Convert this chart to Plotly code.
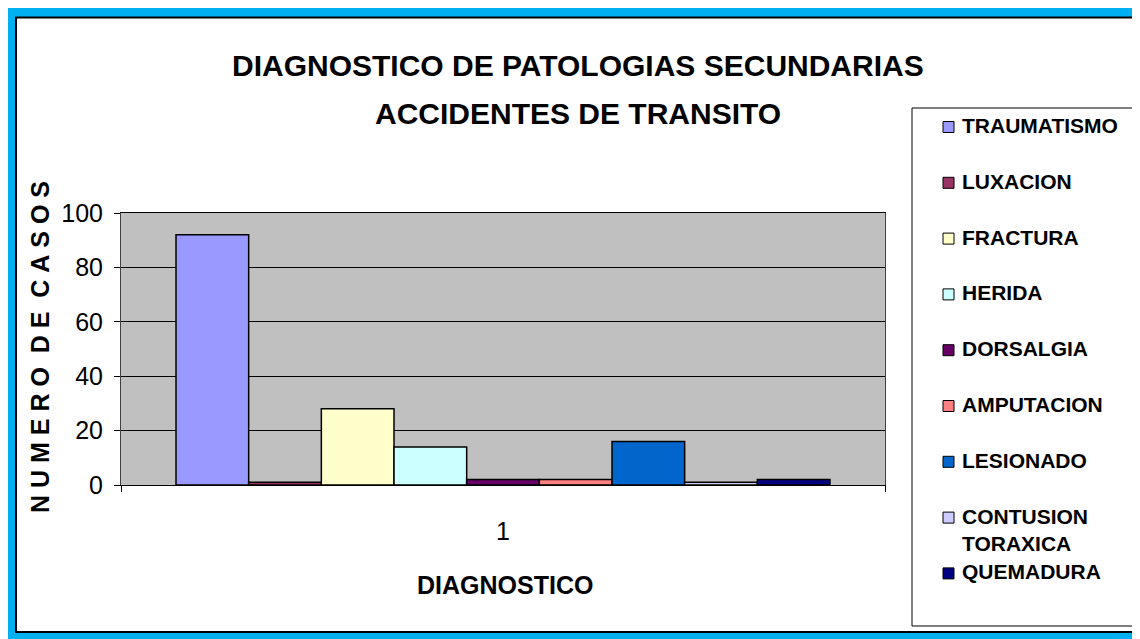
import plotly.graph_objects as go

# ---------------- data ----------------
categories = ["TRAUMATISMO", "LUXACION", "FRACTURA", "HERIDA", "DORSALGIA",
              "AMPUTACION", "LESIONADO", "CONTUSION TORAXICA", "QUEMADURA"]
values = [92, 1, 28, 14, 2, 2, 16, 1, 2]
colors = ["#9999FF", "#993366", "#FFFFCC", "#CCFFFF", "#660066",
          "#FF8080", "#0066CC", "#CCCCFF", "#000080"]
x_category = ["1"]
y_ticks = [0, 20, 40, 60, 80, 100]

title_lines = ["DIAGNOSTICO DE PATOLOGIAS SECUNDARIAS", "ACCIDENTES DE TRANSITO"]
x_title = "DIAGNOSTICO"
y_title = "NUMERO DE CASOS"

FONT = "Liberation Sans, Arial, sans-serif"

# ---------------- geometry (pixels in the page) ----------------
W_PX, H_PX = 1140, 639
OFF = 8  # page body margin offset
L, R, T, B = 121, 885, 213, 485
PW, PH = R - L, B - T


def px(x):
    return (x - L) / PW


def py(y):
    return (B - y) / PH


fig = go.Figure()
for name, val, col in zip(categories, values, colors):
    fig.add_trace(go.Bar(
        name=name, x=x_category, y=[val],
        marker=dict(color=col, line=dict(color="black", width=1.5)),
        showlegend=False,
    ))

shapes = []
annotations = []

# outer frame: blue bands, orange edge, black inner border
BLUE = "#00B0F0"
for (x0, y0, x1, y1) in [(0, 0, 1160, 17), (0, 0, 15, 660), (1138, 0, 1160, 660), (0, 632, 1160, 660)]:
    shapes.append(dict(type="rect", xref="paper", yref="paper",
                       x0=px(x0), x1=px(x1), y0=py(y0), y1=py(y1),
                       fillcolor=BLUE, line=dict(width=0), layer="below"))
shapes.append(dict(type="rect", xref="paper", yref="paper", x0=px(16), x1=px(1138), y0=py(17.5), y1=py(632),
                   line=dict(color="black", width=2), fillcolor="rgba(0,0,0,0)"))

# legend box
shapes.append(dict(type="rect", xref="paper", yref="paper", x0=px(912), x1=px(1137.5), y0=py(108), y1=py(626),
                   line=dict(color="black", width=1), fillcolor="rgba(0,0,0,0)"))

# legend entries
LEG_Y0, LEG_DY = 127, 55.8
for i, (name, col) in enumerate(zip(categories, colors)):
    cy = LEG_Y0 + i * LEG_DY
    shapes.append(dict(type="rect", xref="paper", yref="paper",
                       x0=px(943), x1=px(954), y0=py(cy - 5.5), y1=py(cy + 5.5),
                       fillcolor=col, line=dict(color="black", width=1)))
    words = name.split(" ")
    label = "<br>".join(words) if len(name) > 12 else name
    annotations.append(dict(xref="paper", yref="paper", x=px(960), y=py(cy - 15),
                            xanchor="left", yanchor="top", text=label, showarrow=False, align="left",
                            font=dict(family=FONT, size=21, color="black", weight="bold")))

# title lines
for text, cy in zip(title_lines, [66, 113]):
    annotations.append(dict(xref="paper", yref="paper", x=px(578), y=py(cy), xanchor="center",
                            yanchor="middle", text=text, showarrow=False,
                            font=dict(family=FONT, size=30, color="black", weight="bold")))

# axis titles
annotations.append(dict(xref="paper", yref="paper", x=px(505), y=py(585), xanchor="center",
                        yanchor="middle", text=x_title, showarrow=False,
                        font=dict(family=FONT, size=25, color="black", weight="bold")))
spaced = "\u00a0\u00a0".join("\u00a0".join(list(w)) for w in y_title.split(" "))
annotations.append(dict(xref="paper", yref="paper", x=px(40), y=py(347), xanchor="center",
                        yanchor="middle", text=spaced, showarrow=False, textangle=-90,
                        font=dict(family=FONT, size=25, color="black", weight="bold")))

fig.update_layout(
    width=W_PX, height=H_PX,
    margin=dict(l=L - OFF, r=W_PX - (R - OFF), t=T - OFF, b=H_PX - (B - OFF), pad=0),
    paper_bgcolor="white", plot_bgcolor="#C0C0C0",
    barmode="group", bargap=0.144, bargroupgap=0,
    showlegend=False,
    shapes=shapes, annotations=annotations,
    font=dict(family=FONT, color="black"),
)
fig.update_xaxes(type="category", showline=True, linecolor="black", linewidth=1, mirror=True,
                 ticks="outside", tickson="boundaries", ticklen=6, tickcolor="black",
                 tickfont=dict(family=FONT, size=25, color="black"), ticklabelstandoff=24,
                 showgrid=False, fixedrange=True)
fig.update_yaxes(range=[0, 100], tickvals=y_ticks, showline=True, linecolor="#404040", linewidth=1,
                 mirror=True, ticks="outside", ticklen=6, tickcolor="black",
                 tickfont=dict(family=FONT, size=25, color="black"), ticklabelstandoff=6,
                 showgrid=True, gridcolor="black", gridwidth=1, zeroline=False, fixedrange=True)

fig.write_html("out.html")
